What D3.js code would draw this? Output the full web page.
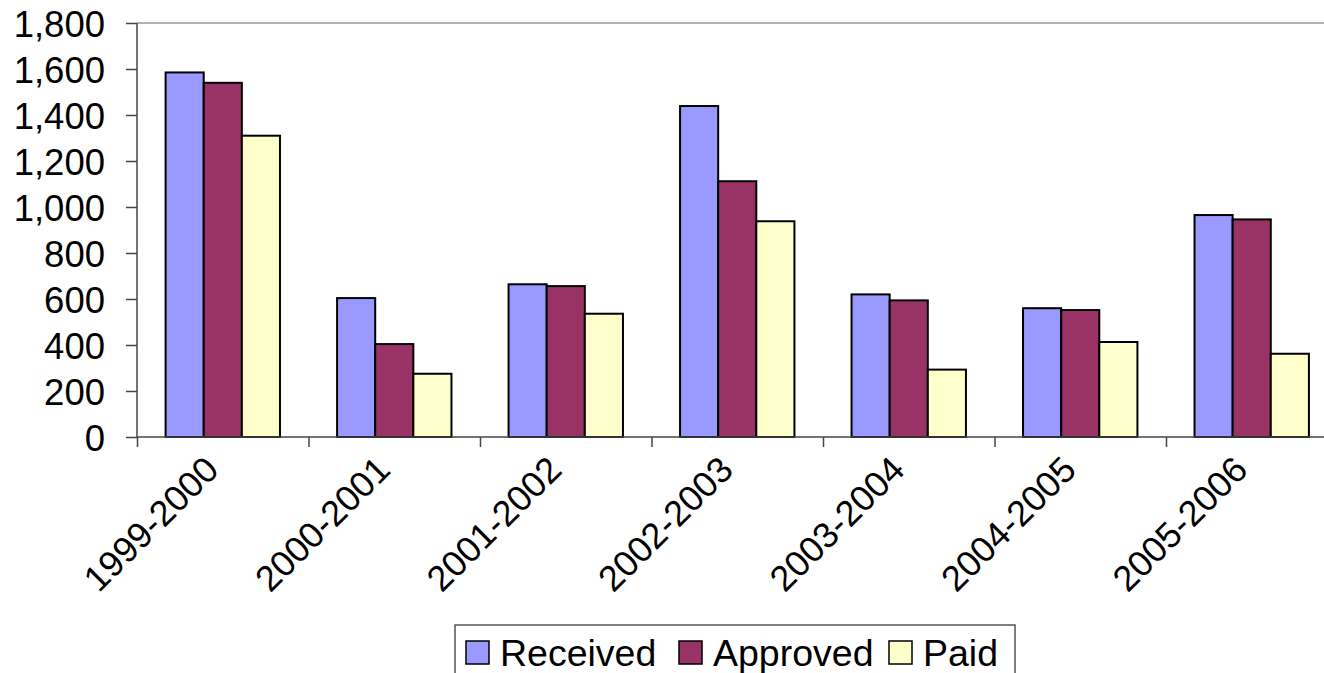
<!DOCTYPE html>
<html>
<head>
<meta charset="utf-8">
<script src="https://d3js.org/d3.v7.min.js"></script>
<style>
  body{ margin:0; background:white; overflow:hidden; }
  svg{ display:block; font-family: Arial, "Liberation Sans", sans-serif; }
</style>
</head>
<body>
<script>
    // data
    var years = ["1999-2000", "2000-2001", "2001-2002", "2002-2003", "2003-2004", "2004-2005", "2005-2006"];
    var series = ["Received", "Approved", "Paid"];
    var received = [1585, 604, 664, 1439, 620, 560, 965];
    var approved = [1540, 404, 656, 1112, 594, 552, 946];
    var paid = [1310, 275, 536, 938, 293, 413, 362];
    var yTicks = [0, 200, 400, 600, 800, 1000, 1200, 1400, 1600, 1800];

    var colors = ["#9999FF", "#993366", "#FFFFCC"];
    var values = [received, approved, paid];

    var svgWidth = 1324;
    var svgHeight = 673;

    var plotLeft = 137, plotTop = 23, plotBottom = 437;
    var catWidth = 171.5;
    var plotRight = plotLeft + catWidth * years.length;

    var svg = d3.select("body")
        .append("svg")
        .attr("width", svgWidth)
        .attr("height", svgHeight);

    var x = d3.scaleBand()
        .domain(years)
        .range([plotLeft, plotRight])
        .paddingInner(0.333)
        .paddingOuter(0.1667);

    var xSub = d3.scaleBand()
        .domain(series)
        .range([0, x.bandwidth()]);

    var y = d3.scaleLinear()
        .domain([0, 1800])
        .range([plotBottom, plotTop]);

    // top frame line
    svg.append("line")
        .attr("x1", plotLeft).attr("x2", plotRight)
        .attr("y1", plotTop).attr("y2", plotTop)
        .attr("stroke", "#999")
        .attr("stroke-width", 1.5);

    // bars
    series.forEach(function(s, i) {
        svg.append("g")
            .selectAll("rect")
            .data(years)
            .enter().append("rect")
            .attr("x", function(d) { return x(d) + xSub(s); })
            .attr("y", function(d, j) { return y(values[i][j]); })
            .attr("width", xSub.bandwidth())
            .attr("height", function(d, j) { return plotBottom - y(values[i][j]); })
            .attr("fill", colors[i])
            .attr("stroke", "black")
            .attr("stroke-width", 2);
    });

    // y axis
    var yAxis = svg.append("g")
        .attr("transform", "translate(" + plotLeft + ",0)")
        .call(d3.axisLeft(y).tickValues(yTicks).tickSize(11).tickPadding(21).tickFormat(d3.format(",")));
    yAxis.selectAll("text")
        .attr("font-size", 36.5)
        .attr("fill", "black")
        .attr("font-family", "Arial, 'Liberation Sans', sans-serif")
        .attr("dy", "0.36em");
    yAxis.selectAll("line, path").attr("stroke", "#444").attr("stroke-width", 1.5);
    yAxis.select(".domain").attr("d", "M0," + plotTop + "V" + plotBottom);

    // x axis
    var xAxisLine = d3.scaleLinear().domain([0, years.length]).range([plotLeft, plotRight]);
    var xg = svg.append("g")
        .attr("transform", "translate(0," + plotBottom + ")")
        .call(d3.axisBottom(xAxisLine).tickValues(d3.range(years.length + 1)).tickSize(10).tickFormat(""));
    xg.selectAll("line, path").attr("stroke", "#444").attr("stroke-width", 1.5);
    xg.select(".domain").attr("d", "M" + plotLeft + ",0H" + plotRight);

    // category labels
    svg.append("g")
        .selectAll("text")
        .data(years)
        .enter().append("text")
        .attr("transform", function(d) {
            return "translate(" + (x(d) + x.bandwidth() / 2 - 20) + "," + (plotBottom + 17) + ") rotate(-45)";
        })
        .attr("text-anchor", "end")
        .attr("dy", "0.7em")
        .attr("font-size", 36)
        .text(function(d) { return d; });

    // legend
    var legend = svg.append("g");
    legend.append("rect")
        .attr("x", 455).attr("y", 625)
        .attr("width", 560).attr("height", 60)
        .attr("fill", "white")
        .attr("stroke", "#555")
        .attr("stroke-width", 1.5);

    var legendX = [466, 679, 889];
    series.forEach(function(s, i) {
        legend.append("rect")
            .attr("x", legendX[i]).attr("y", 641)
            .attr("width", 23).attr("height", 23)
            .attr("fill", colors[i])
            .attr("stroke", "black")
            .attr("stroke-width", 1.5);
        legend.append("text")
            .attr("x", legendX[i] + 34).attr("y", 666)
            .attr("font-size", 37.5)
            .text(s);
    });
</script>
</body>
</html>
